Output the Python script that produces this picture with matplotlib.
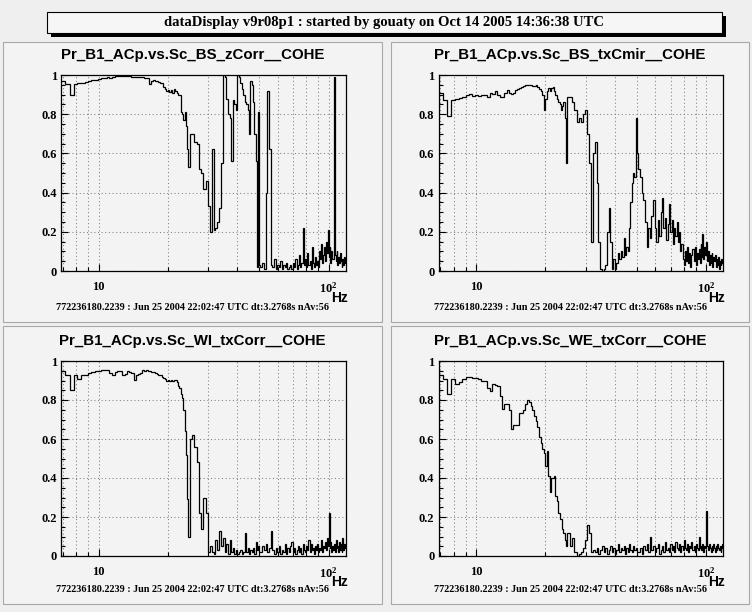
import numpy as np
import matplotlib
matplotlib.use("Agg")
import matplotlib.pyplot as plt
from matplotlib.patches import Rectangle
from matplotlib.ticker import FixedLocator, NullFormatter

plt.rcParams['mathtext.fontset'] = 'custom'
plt.rcParams['mathtext.rm'] = 'Liberation Serif:bold'
plt.rcParams['mathtext.bf'] = 'Liberation Serif:bold'
plt.rcParams['mathtext.it'] = 'Liberation Serif:bold'

# ---------------- data ----------------
CANVAS_TITLE = "dataDisplay v9r08p1 : started by gouaty on Oct 14 2005 14:36:38 UTC"
FOOTER = "772236180.2239 : Jun 25 2004 22:02:47 UTC dt:3.2768s nAv:56"
titles = ["Pr_B1_ACp.vs.Sc_BS_zCorr__COHE", "Pr_B1_ACp.vs.Sc_BS_txCmir__COHE",
          "Pr_B1_ACp.vs.Sc_WI_txCorr__COHE", "Pr_B1_ACp.vs.Sc_WE_txCorr__COHE"]
y_tick_vals = [0, 0.2, 0.4, 0.6, 0.8, 1.0]
y_tick_labels = ["0", "0.2", "0.4", "0.6", "0.8", "1"]
x_major = [10, 100]
x_major_labels = ["10", r"$\mathbf{10^{2}}$"]
x_minor = [7, 8, 9, 20, 30, 40, 50, 60, 70, 80, 90]

dt = 3.2768           # s  -> frequency resolution 1/dt
first_bin = 23        # first FFT bin shown
seg_counts = [59, 42, 74]   # number of (re)binned values per frequency segment
seg_rebin = [1, 2, 3]       # FFT bins merged per value in each segment

# coherence, panel 1 : BS_zCorr
coh_bs_zcorr = [
    0.97, 0.955, 0.90, 0.955, 0.96, 0.96, 0.965, 0.97, 0.975, 0.975,
    0.98, 0.985, 0.985, 0.99, 0.985, 0.99, 0.995, 0.995, 0.995, 0.995,
    0.995, 0.995, 0.995, 0.99, 0.99, 0.99, 0.99, 0.99, 0.99, 0.985,
    0.985, 0.985, 0.955, 0.97, 0.975, 0.97, 0.97, 0.965, 0.96, 0.96,
    0.94, 0.93, 0.92, 0.925, 0.915, 0.925, 0.91, 0.93, 0.92, 0.91,
    0.90, 0.90, 0.81, 0.80, 0.77, 0.81, 0.74, 0.62, 0.53,
    0.70, 0.70, 0.66, 0.65, 0.52, 0.50, 0.42, 0.46, 0.33, 0.20,
    0.62, 0.21, 0.22, 0.25, 0.32, 0.55, 1.00, 0.99, 0.88, 0.80,
    0.78, 0.56, 0.87, 0.85, 0.82, 1.00, 0.99, 0.96, 0.93, 0.90,
    0.86, 0.85, 0.82, 0.70, 0.97, 0.95, 0.86, 0.70, 0.56, 0.02,
    0.81, 0.03,
    0.02, 0.04, 0.01, 0.40, 0.92, 0.62, 0.03,
    0.02, 0.06, 0.01, 0.03, 0.02, 0.05, 0.01, 0.03, 0.02, 0.04,
    0.01, 0.02, 0.03, 0.01, 0.04, 0.02, 0.06, 0.01, 0.03, 0.08,
    0.02, 0.04, 0.22, 0.03, 0.06, 0.02, 0.09, 0.03, 0.05, 0.01,
    0.12, 0.04, 0.02, 0.07, 0.03, 0.05, 0.02, 0.10, 0.06, 0.14,
    0.04, 0.08, 0.12, 0.05, 0.15, 0.09, 0.21, 0.07, 0.12, 0.04,
    0.10, 0.06, 0.06, 0.99, 0.08, 0.05, 0.10, 0.03, 0.07, 0.04,
    0.09, 0.05, 0.02, 0.06, 0.03, 0.07, 0.04,
]

# coherence, panel 2 : BS_txCmir
coh_bs_txcmir = [
    0.91, 0.87, 0.79, 0.87, 0.88, 0.885, 0.89, 0.90, 0.905, 0.895,
    0.90, 0.895, 0.90, 0.90, 0.89, 0.91, 0.905, 0.92, 0.90, 0.89,
    0.89, 0.91, 0.925, 0.91, 0.905, 0.91, 0.925, 0.93, 0.935, 0.94,
    0.945, 0.95, 0.95, 0.95, 0.95, 0.945, 0.945, 0.95, 0.94, 0.93,
    0.92, 0.90, 0.82, 0.88, 0.92, 0.935, 0.92, 0.935, 0.94, 0.92,
    0.90, 0.88, 0.86, 0.85, 0.82, 0.84, 0.86, 0.78, 0.55,
    0.89, 0.89, 0.86, 0.82, 0.76, 0.78, 0.76, 0.80, 0.82, 0.70,
    0.55, 0.15, 0.60, 0.66, 0.45, 0.15, 0.01, 0.00, 0.01, 0.03,
    0.20, 0.32, 0.15, 0.01, 0.06, 0.01, 0.04, 0.09, 0.06, 0.10,
    0.07, 0.17, 0.08, 0.12, 0.10, 0.22, 0.35, 0.45, 0.50, 0.48,
    0.78, 0.60,
    0.52, 0.48, 0.40, 0.36, 0.25, 0.12, 0.22, 0.17, 0.28, 0.36,
    0.22, 0.15, 0.26, 0.18, 0.30, 0.37, 0.22, 0.27, 0.16, 0.24,
    0.34, 0.20, 0.26, 0.14, 0.22, 0.18, 0.25, 0.15, 0.20, 0.10,
    0.14, 0.06, 0.03, 0.10, 0.05, 0.12, 0.04, 0.09, 0.02, 0.08,
    0.11, 0.05, 0.12, 0.03, 0.09, 0.06, 0.11, 0.04, 0.14, 0.07,
    0.19, 0.06, 0.12, 0.08, 0.15, 0.05, 0.10, 0.03, 0.08, 0.04,
    0.09, 0.02, 0.07, 0.05, 0.08, 0.02, 0.06, 0.03, 0.07, 0.01,
    0.05, 0.03, 0.06, 0.04,
]

# coherence, panel 3 : WI_txCorr
coh_wi_txcorr = [
    0.95, 0.93, 0.85, 0.93, 0.91, 0.93, 0.93, 0.94, 0.945, 0.95,
    0.95, 0.955, 0.955, 0.955, 0.94, 0.93, 0.945, 0.95, 0.95, 0.93,
    0.935, 0.95, 0.945, 0.94, 0.905, 0.93, 0.935, 0.94, 0.955, 0.95,
    0.955, 0.95, 0.95, 0.945, 0.945, 0.94, 0.935, 0.93, 0.93, 0.92,
    0.915, 0.91, 0.90, 0.905, 0.90, 0.905, 0.90, 0.905, 0.905, 0.89,
    0.87, 0.86, 0.83, 0.81, 0.75, 0.64, 0.52, 0.29, 0.10,
    0.60, 0.62, 0.56, 0.48, 0.22, 0.14, 0.30, 0.22, 0.02, 0.05,
    0.02, 0.01, 0.08, 0.03, 0.13, 0.05, 0.09, 0.02, 0.06, 0.01,
    0.08, 0.02, 0.04, 0.01, 0.03, 0.01, 0.02, 0.03, 0.01, 0.02,
    0.12, 0.02, 0.04, 0.01, 0.03, 0.02, 0.04, 0.01, 0.07, 0.03,
    0.05, 0.02,
    0.02, 0.05, 0.03, 0.06, 0.02, 0.04, 0.13, 0.03, 0.01, 0.04,
    0.02, 0.05, 0.01, 0.03, 0.02, 0.06, 0.01, 0.04, 0.02, 0.05,
    0.07, 0.02, 0.04, 0.01, 0.03, 0.05, 0.02, 0.04, 0.01, 0.06,
    0.03, 0.02, 0.05, 0.03, 0.08, 0.02, 0.06, 0.03, 0.04, 0.01,
    0.05, 0.03, 0.06, 0.02, 0.04, 0.03, 0.08, 0.02, 0.05, 0.04,
    0.07, 0.03, 0.09, 0.05, 0.22, 0.04, 0.07, 0.02, 0.05, 0.03,
    0.06, 0.02, 0.08, 0.04, 0.05, 0.02, 0.07, 0.03, 0.06, 0.02,
    0.09, 0.03, 0.06, 0.04,
]

# coherence, panel 4 : WE_txCorr
coh_we_txcorr = [
    0.93, 0.91, 0.83, 0.91, 0.88, 0.89, 0.91, 0.92, 0.92, 0.915,
    0.915, 0.91, 0.90, 0.90, 0.86, 0.845, 0.88, 0.875, 0.87, 0.82,
    0.755, 0.78, 0.78, 0.75, 0.65, 0.67, 0.67, 0.67, 0.735, 0.735,
    0.75, 0.78, 0.80, 0.79, 0.77, 0.75, 0.72, 0.69, 0.66, 0.61,
    0.58, 0.55, 0.53, 0.46, 0.54, 0.41, 0.33, 0.40, 0.40, 0.41,
    0.31, 0.28, 0.22, 0.19, 0.19, 0.14, 0.12, 0.08, 0.05,
    0.12, 0.05, 0.09, 0.02, 0.00, 0.01, 0.02, 0.04, 0.08, 0.16,
    0.12, 0.02, 0.03, 0.02, 0.04, 0.01, 0.03, 0.05, 0.02, 0.04,
    0.01, 0.03, 0.05, 0.02, 0.04, 0.01, 0.03, 0.06, 0.02, 0.04,
    0.03, 0.05, 0.01, 0.04, 0.02, 0.06, 0.03, 0.02, 0.05, 0.03,
    0.04, 0.02,
    0.02, 0.04, 0.01, 0.05, 0.03, 0.06, 0.02, 0.10, 0.03, 0.05,
    0.02, 0.04, 0.06, 0.01, 0.03, 0.05, 0.02, 0.07, 0.03, 0.04,
    0.02, 0.06, 0.03, 0.05, 0.02, 0.07, 0.04, 0.03, 0.06, 0.02,
    0.05, 0.03, 0.08, 0.04, 0.03, 0.06, 0.02, 0.05, 0.04, 0.07,
    0.03, 0.05, 0.02, 0.06, 0.04, 0.03, 0.10, 0.04, 0.05, 0.03,
    0.06, 0.02, 0.05, 0.04, 0.23, 0.05, 0.03, 0.06, 0.04, 0.02,
    0.05, 0.03, 0.06, 0.04, 0.02, 0.05, 0.03, 0.06, 0.04, 0.03,
    0.05, 0.02, 0.04, 0.06,
]

series = [coh_bs_zcorr, coh_bs_txcmir, coh_wi_txcorr, coh_we_txcorr]

# ---------------- bin edges ----------------
df = 1.0 / dt
edges = [(first_bin - 0.5) * df]
for n, r in zip(seg_counts, seg_rebin):
    for _ in range(n):
        edges.append(edges[-1] + r * df)
edges = np.array(edges)

# ---------------- layout (pixels) ----------------
W, H = 752, 612
CANVAS_BG = "#efefef"
PAD_BG = "#f3f3f3"
SERIF = "Liberation Serif"
SANS = "Liberation Sans"

fig = plt.figure(figsize=(W / 100, H / 100), dpi=100)
fig.patch.set_facecolor(CANVAS_BG)


def frect(x0, y0, x1, y1):
    return [x0 / W, 1 - y1 / H, (x1 - x0) / W, (y1 - y0) / H]


def fx(x):
    return x / W


def fy(y):
    return 1 - y / H


# canvas title box with shadow
tb = (47, 12, 722, 33)
fig.patches.append(Rectangle((fx(tb[0] + 4), fy(tb[3] + 4)), (tb[2] - tb[0]) / W, (tb[3] - tb[1]) / H,
                             transform=fig.transFigure, facecolor="black", edgecolor="none", zorder=1))
fig.patches.append(Rectangle((fx(tb[0]), fy(tb[3])), (tb[2] - tb[0]) / W, (tb[3] - tb[1]) / H,
                             transform=fig.transFigure, facecolor="#f6f6f6", edgecolor="black",
                             linewidth=0.8, zorder=2))
fig.text(fx((tb[0] + tb[2]) / 2), fy((tb[1] + tb[3]) / 2), CANVAS_TITLE, ha="center", va="center",
         family=SERIF, weight="bold", fontsize=10.5, zorder=3)

pads = [(3, 42, 382, 322), (391, 42, 749, 322), (3, 326, 382, 604), (391, 326, 749, 604)]
axes_px = [(61, 75, 345.5, 271), (438.5, 75, 723, 271), (61, 361, 345.5, 556), (438.5, 361, 723, 556)]

tick_font = dict(family=SERIF, weight="bold", size=9)

for k in range(4):
    p = pads[k]
    fig.patches.append(Rectangle((fx(p[0]), fy(p[3])), (p[2] - p[0]) / W, (p[3] - p[1]) / H,
                                 transform=fig.transFigure, facecolor=PAD_BG, edgecolor="#a8a8a8",
                                 linewidth=0.8, zorder=-5))
    a = axes_px[k]
    ax = fig.add_axes(frect(*a))
    ax.set_zorder(5)
    ax.set_facecolor(PAD_BG)
    vals = np.array(series[k], dtype=float)
    assert len(vals) == len(edges) - 1
    ax.stairs(vals, edges, baseline=None, color="black", linewidth=0.9, zorder=3)
    ax.set_xscale("log")
    ax.set_xlim(edges[0], edges[-1])
    ax.set_ylim(0, 1.0)

    ax.xaxis.set_major_locator(FixedLocator(x_major))
    ax.xaxis.set_minor_locator(FixedLocator(x_minor))
    ax.set_xticklabels(x_major_labels, fontdict=tick_font)
    ax.xaxis.set_minor_formatter(NullFormatter())
    ax.yaxis.set_major_locator(FixedLocator(y_tick_vals))
    ax.yaxis.set_minor_locator(FixedLocator(list(np.arange(0, 1.0001, 0.05))))
    ax.set_yticklabels(y_tick_labels, fontdict=tick_font)

    ax.tick_params(which="both", direction="in", top=False, right=False, width=0.8, color="black")
    ax.tick_params(which="major", length=5)
    ax.tick_params(which="minor", length=3)
    ax.tick_params(axis="x", which="major", pad=7)
    ax.tick_params(axis="y", which="major", pad=3)

    ax.grid(True, which="both", axis="x", linestyle=(0, (1, 2.5)), color="#808080", linewidth=0.75)
    ax.grid(True, which="major", axis="y", linestyle=(0, (1, 2.5)), color="#808080", linewidth=0.75)
    ax.set_axisbelow(True)
    for s in ax.spines.values():
        s.set_linewidth(0.9)
        s.set_color("black")

    ax.text(1.008, -0.1, "Hz", transform=ax.transAxes, ha="right", va="top",
            family=SANS, weight="bold", fontsize=10)

    cx = (p[0] + p[2]) / 2
    fig.text(fx(cx), fy(a[1] - 20), titles[k], ha="center", va="center",
             family=SANS, weight="bold", fontsize=10.8)
    fig.text(fx(cx), fy(p[3] - 14), FOOTER, ha="center", va="center",
             family=SERIF, weight="bold", fontsize=7.3)

fig.savefig("out.png", dpi=100, facecolor=fig.get_facecolor())
